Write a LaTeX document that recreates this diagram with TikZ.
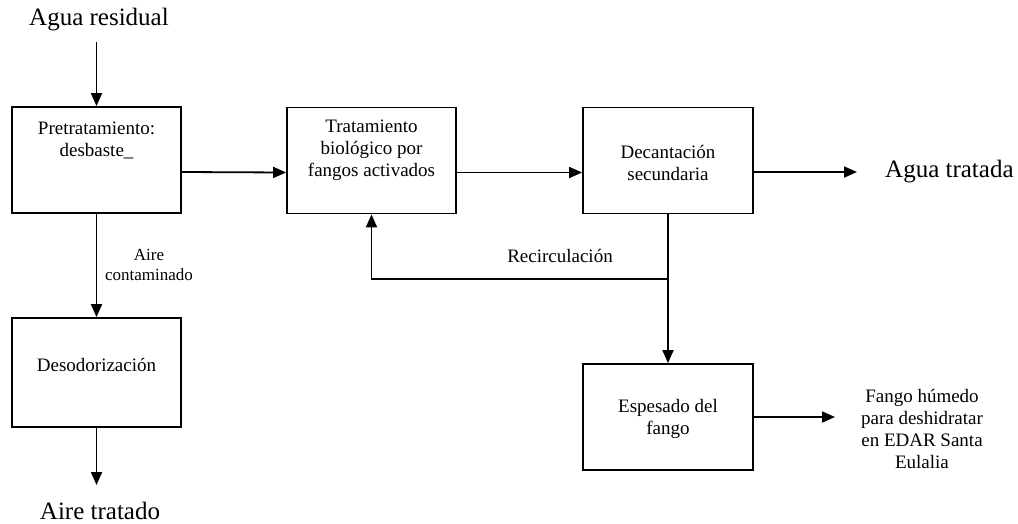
\documentclass[tikz,border=0pt]{standalone}
\usepackage{fontspec}
\setmainfont{Liberation Serif}
\usetikzlibrary{arrows.meta}
\begin{document}
\begin{tikzpicture}[x=1pt,y=-1pt,
  box/.style={draw,line width=1.8pt,minimum width=169pt,minimum height=106pt,inner sep=0pt},
  btxt/.style={font=\rmfamily\fontsize{19}{22}\selectfont,align=center,inner sep=0pt},
  lbl/.style={font=\rmfamily\fontsize{17}{20}\selectfont,align=center,inner sep=0pt},
  big/.style={font=\rmfamily\fontsize{25}{28}\selectfont,inner sep=0pt},
  flow/.style={line width=1.8pt,-{Triangle[length=13pt,width=11pt]}}]
\useasboundingbox (0,0) rectangle (1018,523);

% boxes
\node[box] (b1) at (96.5,160) {};
\node[box] (b2) at (371.5,160.5) {};
\node[box,minimum width=170pt] (b3) at (668,160.5) {};
\node[box,minimum height=109pt] (b4) at (96.5,372.5) {};
\node[box,minimum width=170pt] (b5) at (668,417) {};

% box texts
\node[btxt] (t1) at (96.5,140) {Pretratamiento:\\desbaste\_};
\node[btxt] (t2) at (371.5,150) {Tratamiento\\biológico por\\fangos activados};
\node[btxt] (t3) at (668,162.5) {Decantación\\secundaria};
\node[btxt] (t4) at (96.5,365) {Desodorización};
\node[btxt] (t5) at (668,419) {Espesado del\\fango};

% outer labels
\node[big] (aguares) at (99,20) {Agua residual};
\node[big,anchor=west] (aguatrat) at (885,172) {Agua tratada};
\node[big] (airetrat) at (100,511) {Aire tratado};
\node[lbl] (airecont) at (149,265) {Aire\\contaminado};
\node[btxt] (recirc) at (560,256) {Recirculación};
\node[btxt] (fango) at (922,429) {Fango húmedo\\para deshidratar\\en EDAR Santa\\Eulalia};

% helper coordinates
\coordinate (c0) at (96.5,42);
\coordinate (c1) at (96.5,485);
\coordinate (c2) at (857,172);
\coordinate (c3) at (835,417);
\coordinate (j) at (668,279);

% connectors
\draw[flow] (c0) -- (b1.north);
\draw[flow] ([yshift=-12pt]b1.east) -- ([yshift=-12pt]b2.west);
\draw[flow] ([yshift=-12pt]b2.east) -- ([yshift=-12pt]b3.west);
\draw[flow] ([yshift=-11.5pt]b3.east) -- (c2);
\draw[flow] (b3.south) -- (b5.north);
\draw[flow] (j) -| (b2.south);
\draw[flow] (b1.south) -- (b4.north);
\draw[flow] (b4.south) -- (c1);
\draw[flow] (b5.east) -- (c3);
\end{tikzpicture}
\end{document}
